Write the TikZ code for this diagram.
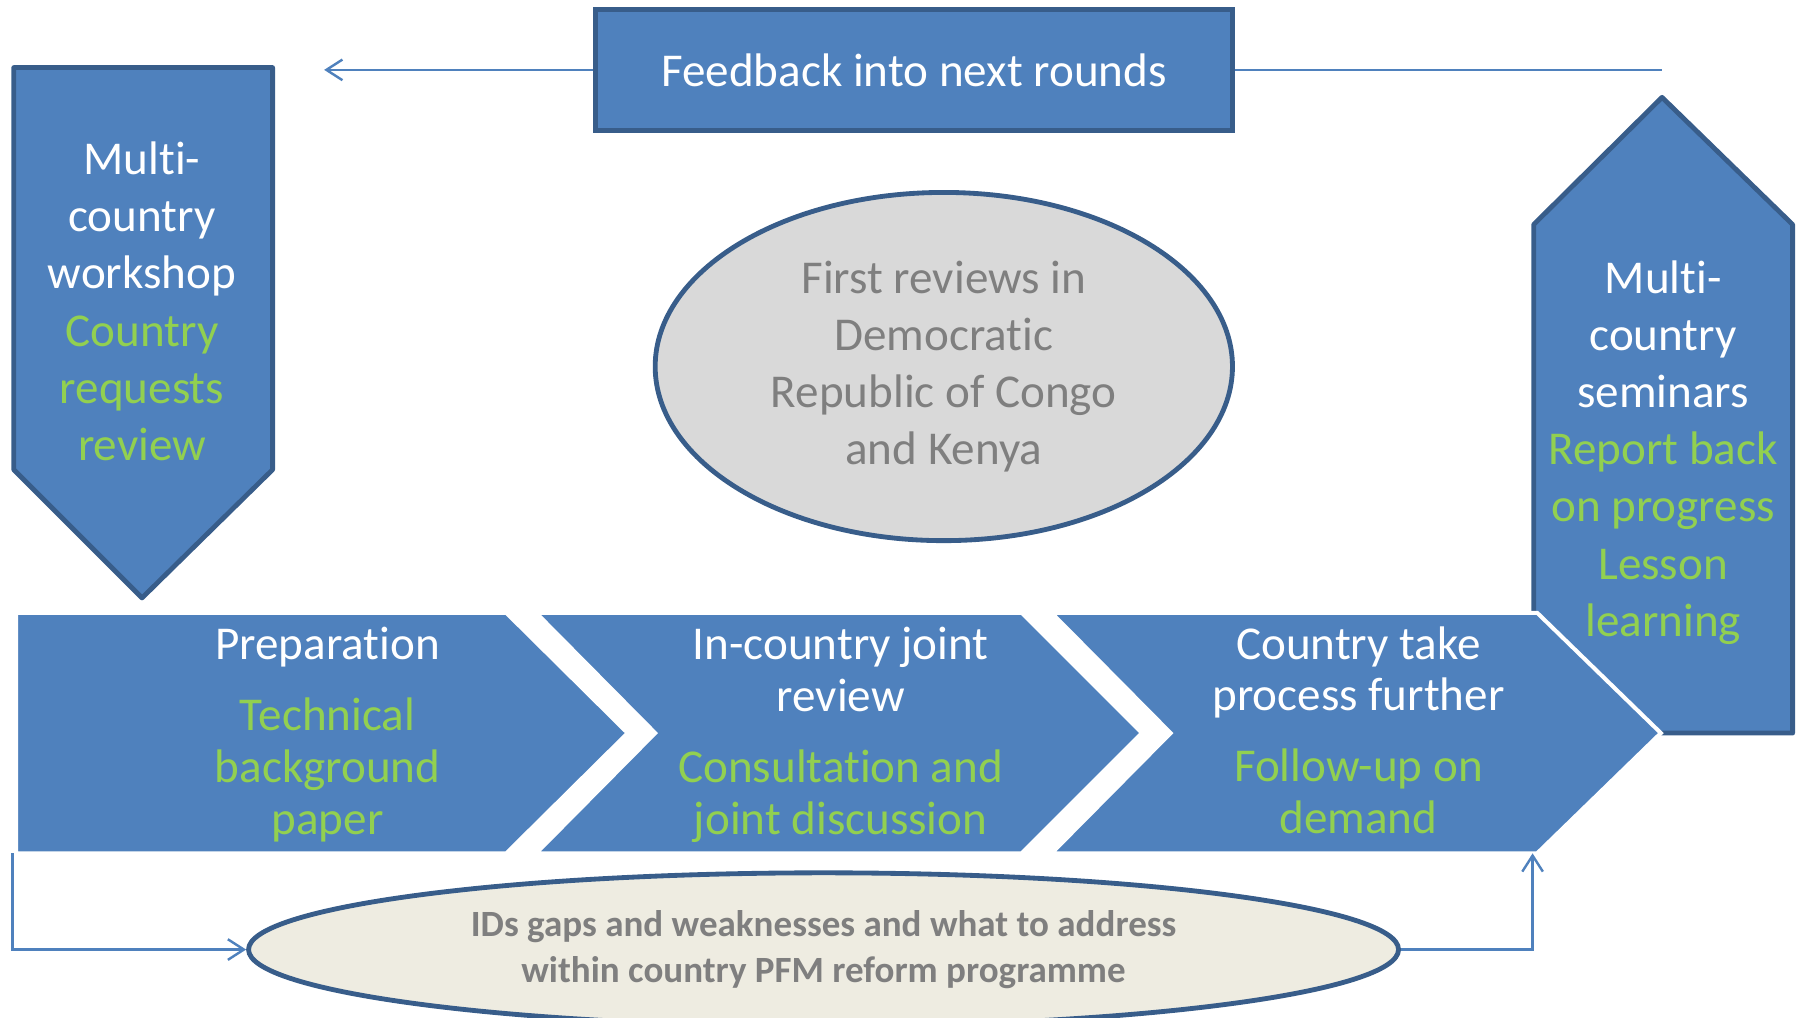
\documentclass[tikz,border=0pt]{standalone}
\usepackage{fontspec}
\setmainfont{Carlito}[RawFeature={-liga;-clig;-dlig;-calt}]
\usetikzlibrary{shapes.geometric}
\usetikzlibrary{arrows.meta}
\definecolor{boxblue}{HTML}{4F81BD}
\definecolor{edgeblue}{HTML}{385D8A}
\definecolor{notegreen}{HTML}{92D050}
\definecolor{notegray}{HTML}{7F7F7F}
\definecolor{ovalgray}{HTML}{D9D9D9}
\definecolor{ovalcream}{HTML}{EEECE1}
\tikzset{%
  bigarrow/.style = {fill=boxblue,draw=edgeblue,line width=1.2pt,
        line join=round},
  chev/.style = {fill=boxblue,draw=white,line width=1pt},
  fbbox/.style = {rectangle,fill=boxblue,draw=edgeblue,line width=1.2pt,
        minimum width=5.56cm,minimum height=1.06cm,text=white},
  oval/.style = {ellipse,draw=edgeblue,line width=1.2pt,inner sep=0pt,
        text=notegray,align=center},
  txt/.style = {align=center,inner sep=0pt,text=white},
  chevtxt/.style = {font=\fontsize{11.7}{12.9}\selectfont},
  feedline/.style = {draw=boxblue,line width=0.6pt},
  feedarrow/.style = {feedline,-{Straight Barb[length=1.4mm,width=1.8mm]}}
}
\newcommand{\greenline}[1]{\textcolor{notegreen}{#1}}

\begin{document}
\begin{tikzpicture}\fontsize{11.7}{14.2}\selectfont
   \useasboundingbox (0,0) rectangle (15.68,8.88);

   \draw[bigarrow] (13.39,2.48) -- (13.39,6.92) -- (14.51,8.03)
      -- (15.65,6.92) -- (15.65,2.48) -- cycle;
   \draw[bigarrow] (0.12,8.29) -- (2.38,8.29) -- (2.38,4.78)
      -- (1.24,3.66) -- (0.12,4.78) -- cycle;

   \draw[chev] (0.14,3.53) -- (4.42,3.53) -- (5.48,2.48)
      -- (4.42,1.43) -- (0.14,1.43) -- cycle;
   \draw[chev] (4.68,3.53) -- (8.92,3.53) -- (9.97,2.48)
      -- (8.92,1.43) -- (4.68,1.43) -- (5.72,2.48) -- cycle;
   \draw[chev] (9.18,3.53) -- (13.42,3.53) -- (14.50,2.48)
      -- (13.42,1.43) -- (9.18,1.43) -- (10.22,2.48) -- cycle;

   \node[fbbox] (fb) at (7.98,8.27) {Feedback into next rounds};
   \node[oval,fill=ovalgray,minimum width=5.04cm,minimum height=3.04cm]
      (first) at (8.24,5.68)
      {First reviews in\\Democratic\\Republic of Congo\\and Kenya};
   \node[oval,fill=ovalcream,minimum width=10.04cm,minimum height=1.34cm,
      font=\fontsize{9.2}{11.4}\selectfont\bfseries] (gaps) at (7.19,0.59)
      {IDs gaps and weaknesses and what to address\\within country PFM reform programme};

   \node[txt] (workshop) at (1.24,6.25)
      {Multi-\\country\\workshop\\\greenline{Country}\\\greenline{requests}\\\greenline{review}};
   \node[txt] (seminars) at (14.52,4.93)
      {Multi-\\country\\seminars\\\greenline{Report back}\\\greenline{on progress}\\\greenline{Lesson}\\\greenline{learning}};

   \node[txt,chevtxt] (prep) at (2.86,2.465)
      {Preparation\\[4.7pt]\greenline{Technical}\\\greenline{background}\\\greenline{paper}};
   \node[txt,chevtxt] (joint) at (7.34,2.465)
      {In-country joint\\review\\[4.7pt]\greenline{Consultation and}\\\greenline{joint discussion}};
   \node[txt,chevtxt] (further) at (11.86,2.505)
      {Country take\\process further\\[4.7pt]\greenline{Follow-up on}\\\greenline{demand}};

   \coordinate (fbend) at (2.83,8.27);
   \coordinate (fbstart) at (14.51,8.27);
   \coordinate (prepcorner) at (0.11,1.43);
   \coordinate (takecorner) at (13.38,1.43);

   \draw[feedarrow] (fb.west) -- (fbend);
   \draw[feedline] (fb.east) -- (fbstart);
   \draw[feedarrow] (prepcorner) |- (gaps.west);
   \draw[feedarrow] (gaps.east) -| (takecorner);
\end{tikzpicture}
\end{document}
